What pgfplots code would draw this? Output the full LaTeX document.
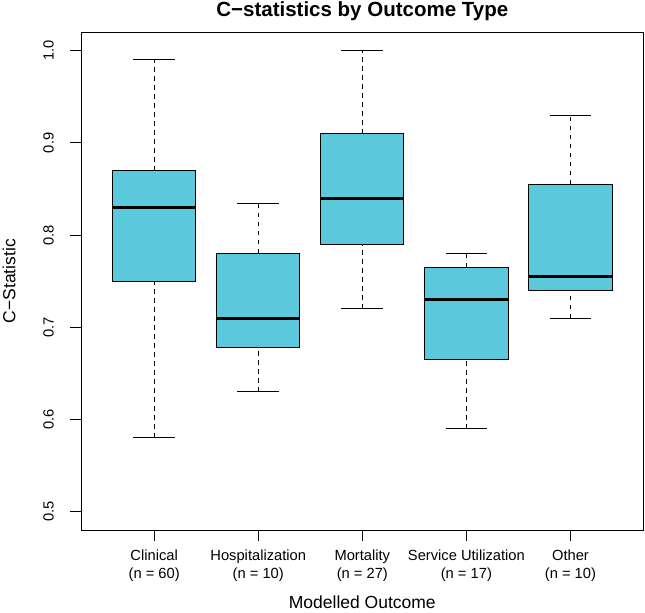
\documentclass[border=0pt]{standalone}
\usepackage{pgfplots}
\pgfplotsset{compat=1.18}
\usepgfplotslibrary{statistics}
\usepackage{fontspec}
\setmainfont{Liberation Sans}
\definecolor{boxc}{RGB}{92,200,219}

\begin{document}
\begin{tikzpicture}
\begin{axis}[
  name=ax,
  scale only axis,
  width=562pt, height=497.7pt,
  xmin=0.3, xmax=5.7, ymin=0.48, ymax=1.02,
  axis line style={black, line width=0.9pt},
  tick pos=left, tick align=outside,
  major tick length=11pt,
  tick style={black, line width=0.9pt},
  xtick={1,2,3,4,5},
  xticklabels={{Clinical\\(n = 60)},{Hospitalization\\(n = 10)},{Mortality\\(n = 27)},{Service Utilization\\(n = 17)},{Other\\(n = 10)}},
  xticklabel style={align=center, font=\fontsize{14.7}{18}\selectfont, anchor=north},
  xticklabel shift=5pt,
  ytick={0.5,0.6,0.7,0.8,0.9,1.0},
  yticklabel style={rotate=90, anchor=south, font=\fontsize{14.7}{18}\selectfont, /pgf/number format/fixed, /pgf/number format/fixed zerofill, /pgf/number format/precision=1},
  yticklabel shift=13pt,
  /pgf/number format/assume math mode=true,
  title={C−statistics by Outcome Type},
  title style={font=\fontsize{20.5}{24}\selectfont\bfseries, at={(axis description cs:0.5,1.019)}, anchor=base, yshift=0pt},
  xlabel={Modelled Outcome},
  xlabel style={font=\fontsize{17.5}{21}\selectfont, at={(axis description cs:0.5,-0.158)}, anchor=base, yshift=0pt},
  ylabel={C−Statistic},
  ylabel style={font=\fontsize{17.5}{21}\selectfont, at={(axis description cs:-0.1174,0.5)}, anchor=base},
  boxplot/draw direction=y,
  boxplot/every box/.style={fill=boxc, draw=black, line width=0.9pt},
  boxplot/every median/.style={draw=black, line width=3pt},
  boxplot/draw/lower whisker/.code={
    \draw[black, line width=0.9pt, dash pattern=on 4.5pt off 4.5pt] (boxplot box cs:\pgfplotsboxplotvalue{lower whisker},0.5) -- (boxplot box cs:\pgfplotsboxplotvalue{lower quartile},0.5);
    \draw[black, line width=0.9pt] (boxplot whisker cs:\pgfplotsboxplotvalue{lower whisker},0) -- (boxplot whisker cs:\pgfplotsboxplotvalue{lower whisker},1);
  },
  boxplot/draw/upper whisker/.code={
    \draw[black, line width=0.9pt, dash pattern=on 4.5pt off 4.5pt] (boxplot box cs:\pgfplotsboxplotvalue{upper quartile},0.5) -- (boxplot box cs:\pgfplotsboxplotvalue{upper whisker},0.5);
    \draw[black, line width=0.9pt] (boxplot whisker cs:\pgfplotsboxplotvalue{upper whisker},0) -- (boxplot whisker cs:\pgfplotsboxplotvalue{upper whisker},1);
  },
]
\addplot[boxplot prepared={draw position=1, lower whisker=0.58, lower quartile=0.75, median=0.83, upper quartile=0.87, upper whisker=0.99, box extend=0.8, whisker extend=0.4}] coordinates {};
\addplot[boxplot prepared={draw position=2, lower whisker=0.63, lower quartile=0.678, median=0.71, upper quartile=0.78, upper whisker=0.834, box extend=0.8, whisker extend=0.4}] coordinates {};
\addplot[boxplot prepared={draw position=3, lower whisker=0.72, lower quartile=0.79, median=0.84, upper quartile=0.91, upper whisker=1.0, box extend=0.8, whisker extend=0.4}] coordinates {};
\addplot[boxplot prepared={draw position=4, lower whisker=0.59, lower quartile=0.665, median=0.73, upper quartile=0.765, upper whisker=0.78, box extend=0.8, whisker extend=0.4}] coordinates {};
\addplot[boxplot prepared={draw position=5, lower whisker=0.71, lower quartile=0.74, median=0.755, upper quartile=0.855, upper whisker=0.93, box extend=0.8, whisker extend=0.4}] coordinates {};
\end{axis}
\pgfresetboundingbox
\path[use as bounding box] ([xshift=-81.3pt,yshift=-82pt]ax.south west) rectangle ([xshift=1.7pt,yshift=32.3pt]ax.north east);
\end{tikzpicture}
\end{document}
